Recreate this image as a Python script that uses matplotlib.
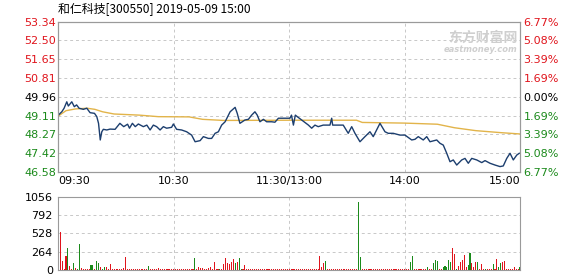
import numpy as np
import matplotlib
matplotlib.use("Agg")
import matplotlib.pyplot as plt

# --- data ---
title = "和仁科技[300550] 2019-05-09 15:00"
prev_close = 49.96

price_ticks = [53.34, 52.50, 51.65, 50.81, 49.96, 49.11, 48.27, 47.42, 46.58]
pct_labels = ["6.77%", "5.08%", "3.39%", "1.69%", "0.00%", "1.69%", "3.39%", "5.08%", "6.77%"]
time_ticks = [0, 60, 120, 180, 240]
time_labels = ["09:30", "10:30", "11:30/13:00", "14:00", "15:00"]
vol_ticks = [0, 264, 528, 792, 1056]

# price line (minute from 09:30, price)
price_min = [0, 1.8, 3, 4.4, 5.2, 7, 8.3, 9.5, 10.8, 13, 14.8, 16.5, 18.8, 20, 20.9, 21.8,
             22.6, 23.4, 25.2, 26.9, 29.5, 32, 34, 36, 37, 38.5, 40, 41.6, 44.2, 46, 47.7,
             49.4, 51.1, 52.9, 54.6, 56.3, 58.9, 59.8, 61.5, 64.1, 66.7, 69.3, 71.1, 73.7,
             75.4, 78, 79.7, 81.5, 83.2, 84.9, 86.7, 89.3, 91.9, 93, 94.4, 97, 98.8, 100.5,
             102.2, 103.4, 104.8, 106.6, 108.3, 110.9, 112.6, 114.4, 120.4, 121.2, 122.2,
             123.2, 124.2, 126.5, 130, 131.7, 133.4, 135.1, 137.7, 141.2, 142.1, 142.6,
             148.1, 150.7, 152.5, 154.2, 156.8, 159.4, 162, 163.7, 167.2, 169.8, 171.5,
             174.1, 177.6, 180.2, 183.7, 185.4, 187.1, 189.7, 191.5, 193.2, 196.7, 198.4,
             200.1, 201.9, 203.6, 205.3, 207.1, 209.7, 211.4, 213.1, 214.9, 217.5, 220.1,
             221.8, 224.4, 227, 229.6, 231.3, 233.1, 234.8, 236.5, 238.3, 239.6]
price_val = [49.13, 49.28, 49.44, 49.73, 49.54, 49.73, 49.51, 49.59, 49.44, 49.39, 49.44,
             49.24, 49.21, 49.06, 48.76, 48.01, 48.38, 48.49, 48.46, 48.50, 48.49, 48.76,
             48.61, 48.72, 48.54, 48.76, 48.61, 48.73, 48.61, 48.68, 48.46, 48.68, 48.61,
             48.46, 48.61, 48.54, 48.58, 48.73, 48.49, 48.46, 48.38, 48.23, 47.93, 47.98,
             48.16, 48.08, 48.08, 48.31, 48.38, 48.68, 48.83, 49.28, 49.48, 49.21, 48.76,
             48.91, 48.94, 49.13, 49.28, 49.13, 48.83, 48.94, 48.83, 48.83, 48.81, 48.99,
             48.99, 49.13, 48.68, 49.13, 49.06, 48.91, 48.68, 48.54, 48.68, 48.61, 48.68,
             48.68, 48.99, 48.68, 48.68, 48.31, 48.61, 48.31, 47.93, 48.16, 48.38, 48.16,
             48.76, 48.38, 48.31, 48.31, 48.23, 48.23, 48.01, 48.04, 48.16, 48.01, 48.16,
             47.93, 48.01, 47.86, 47.78, 47.41, 47.03, 47.11, 46.88, 47.11, 47.18, 46.96,
             47.18, 47.11, 46.99, 47.08, 46.96, 46.88, 46.81, 46.84, 47.18, 47.41, 47.11,
             47.33, 47.41]

# average price line
avg_min = [0, 4, 9, 15, 19, 23, 29, 42, 52, 68, 75, 86, 120, 155, 158, 180, 197, 206, 217, 230, 240]
avg_val = [49.09, 49.33, 49.41, 49.44, 49.39, 49.28, 49.18, 49.13, 49.06, 49.05, 48.94, 48.89,
           48.90, 48.90, 48.80, 48.77, 48.72, 48.56, 48.43, 48.34, 48.28]

# volume per minute (0..240)
volume = [0, 552, 130, 10, 202, 312, 58, 10, 96, 34, 10, 374, 34, 10, 20, 15, 20, 72, 78, 15,
          130, 101, 48, 15, 48, 48, 15, 82, 15, 10, 10, 10, 10, 10, 34, 182, 15, 12, 12, 15,
          12, 15, 12, 12, 10, 15, 12, 58, 15, 10, 10, 12, 34, 10, 12, 10, 10, 12, 10, 10,
          10, 12, 10, 10, 12, 10, 10, 12, 10, 12, 10, 168, 10, 43, 30, 30, 15, 15, 30, 43,
          15, 120, 15, 15, 20, 10, 86, 178, 106, 82, 110, 158, 96, 110, 178, 20, 10, 72, 15, 12,
          12, 10, 12, 10, 12, 10, 12, 10, 12, 10, 10, 12, 10, 12, 10, 12, 10, 10, 12, 10,
          12, 10, 12, 10, 12, 10, 10, 12, 10, 12, 10, 12, 10, 10, 12, 10, 206, 48, 96, 130,
          15, 12, 10, 12, 10, 12, 10, 10, 12, 10, 12, 10, 12, 10, 10, 12, 984, 192, 20, 20,
          20, 12, 10, 12, 10, 12, 10, 12, 10, 12, 10, 12, 15, 10, 12, 10, 10, 12, 10, 10,
          12, 10, 12, 120, 202, 15, 10, 12, 10, 12, 10, 10, 48, 15, 10, 96, 144, 130, 10, 20,
          48, 62, 48, 144, 110, 312, 230, 20, 53, 120, 144, 216, 48, 72, 240, 96, 48, 110, 110, 10,
          86, 10, 20, 15, 10, 10, 86, 20, 158, 48, 96, 120, 134, 15, 20, 15, 10, 38, 10, 10,
          48]
green_minutes = [5, 8, 10, 11, 17, 18, 20, 21, 23, 24, 47, 71, 84, 92, 94, 95, 139, 156, 157,
                 183, 184, 192, 195, 196, 197, 200, 201, 202, 203, 204, 207, 213, 214, 218,
                 222, 226, 229, 230, 240]

RED = "#e0141c"
GREEN = "#1b8a1b"
BLACK = "#000000"
GRID = "#c8c8c8"
SPINE = "#9a9a9a"

fig = plt.figure(figsize=(5.78, 2.76), dpi=100)
ax = fig.add_axes([0.1009, 0.3779, 0.7988, 0.5435])
axv = fig.add_axes([0.1009, 0.0217, 0.7988, 0.2656])

# price panel
ax.plot(avg_min, avg_val, color="#e2b44a", lw=1.0, zorder=3)
ax.plot(price_min, price_val, color="#1c3e6e", lw=1.0, zorder=4)
ax.set_xlim(0, 240)
ax.set_ylim(price_ticks[-1], price_ticks[0])
ax.set_yticks(price_ticks)
ax.set_yticklabels([f"{v:.2f}" for v in price_ticks], fontsize=8)
for lab, v in zip(ax.get_yticklabels(), price_ticks):
    lab.set_color(RED if v > prev_close else (BLACK if v == prev_close else GREEN))
ax.tick_params(axis="y", length=0, pad=1.5)

ax.set_xticks(time_ticks)
ax.set_xticklabels(time_labels, fontsize=8)
ax.tick_params(axis="x", length=0, pad=3)
xl = ax.get_xticklabels()
xl[0].set_horizontalalignment("left")
xl[-1].set_horizontalalignment("right")

axr = ax.twinx()
axr.set_ylim(ax.get_ylim())
axr.set_yticks(price_ticks)
axr.set_yticklabels(pct_labels, fontsize=8)
for lab, v in zip(axr.get_yticklabels(), price_ticks):
    lab.set_color(RED if v > prev_close else (BLACK if v == prev_close else GREEN))
axr.tick_params(axis="y", length=0, pad=2.5)

for a in (ax, axr):
    for s in a.spines.values():
        s.set_color(SPINE)
        s.set_linewidth(0.8)

for v in price_ticks[1:-1]:
    ax.axhline(v, color=GRID, lw=0.7, ls=(0, (3, 3)), zorder=1)
for t in time_ticks[1:-1]:
    ax.axvline(t, color=GRID, lw=0.7, ls=(0, (3, 3)), zorder=1)

# watermark
ax.text(0.995, 0.895, "东方财富网", transform=ax.transAxes, ha="right", va="center",
        fontsize=10, fontweight="bold", color="#cfcfcf", family=["Noto Sans CJK SC", "DejaVu Sans"],
        zorder=2)
ax.text(0.995, 0.815, "eastmoney.com", transform=ax.transAxes, ha="right", va="center",
        fontsize=6, fontweight="bold", style="italic", color="#cfcfcf", zorder=2)

fig.text(58 / 578, 1 - 9 / 276, title, ha="left", va="center", fontsize=8.6,
         family=["Noto Sans CJK SC", "DejaVu Sans"], color=BLACK)

# volume panel
minutes = np.arange(len(volume))
colors = [GREEN if m in green_minutes else RED for m in minutes]
axv.bar(minutes, volume, width=0.55, color=colors, zorder=3)
axv.set_xlim(0, 240)
axv.set_ylim(0, vol_ticks[-1])
axv.set_yticks(vol_ticks)
axv.set_yticklabels([str(v) for v in vol_ticks], fontsize=8)
axv.tick_params(axis="y", length=0, pad=4)
axv.set_xticks([])
for s in axv.spines.values():
    s.set_color(SPINE)
    s.set_linewidth(0.8)
for v in vol_ticks[1:-1]:
    axv.axhline(v, color=GRID, lw=0.7, ls=(0, (3, 3)), zorder=1)
for t in time_ticks[1:-1]:
    axv.axvline(t, color=GRID, lw=0.7, ls=(0, (3, 3)), zorder=1)

fig.savefig("out.png", dpi=100)
